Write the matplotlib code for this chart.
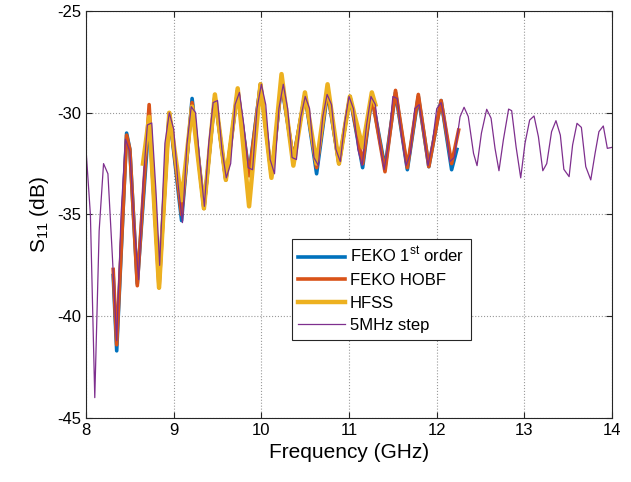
import matplotlib
matplotlib.use("Agg")
import matplotlib.pyplot as plt
import numpy as np

plt.rcParams['font.family'] = ['Liberation Sans', 'DejaVu Sans']
plt.rcParams['axes.unicode_minus'] = False

# FEKO HOBF (orange)
f_hobf = [8.31, 8.35, 8.463, 8.50, 8.585, 8.72, 8.833, 8.95, 9.09, 9.21, 9.345, 9.47,
          9.595, 9.73, 9.86, 9.99, 10.115, 10.23, 10.365, 10.497, 10.63, 10.755, 10.885,
          11.01, 11.155, 11.26, 11.41, 11.53, 11.665, 11.79, 11.91, 12.05, 12.17, 12.25]
s_hobf = [-37.7, -41.4, -31.1, -31.8, -38.5, -29.6, -38.6, -30.0, -35.0, -29.5, -34.7, -29.2,
          -33.3, -28.9, -33.1, -28.6, -33.1, -28.5, -32.3, -29.1, -32.7, -28.9, -32.5,
          -29.2, -32.5, -29.2, -32.9, -28.9, -32.7, -29.1, -32.65, -29.4, -32.5, -30.85]

# FEKO 1st order (blue)
f_feko1 = [8.31, 8.35, 8.463, 8.50, 8.585, 8.72, 8.833, 8.95, 9.09, 9.21, 9.345, 9.47,
           9.595, 9.73, 9.86, 9.99, 10.115, 10.23, 10.365, 10.497, 10.63, 10.755, 10.885,
           11.01, 11.155, 11.26, 11.41, 11.53, 11.665, 11.79, 11.91, 12.05, 12.17, 12.23]
s_feko1 = [-38.0, -41.7, -31.0, -31.8, -38.4, -30.3, -38.3, -30.0, -35.3, -29.3, -34.7, -29.2,
           -33.3, -28.9, -33.0, -28.6, -33.1, -28.6, -32.3, -29.1, -33.0, -29.0, -32.5,
           -29.2, -32.7, -29.2, -32.7, -29.0, -32.8, -29.2, -32.65, -29.4, -32.8, -31.8]

# HFSS (yellow)
f_hfss = [8.65, 8.72, 8.833, 8.95, 9.09, 9.21, 9.345, 9.47, 9.595, 9.73, 9.86, 9.99,
          10.115, 10.23, 10.365, 10.497, 10.63, 10.755, 10.885, 11.01, 11.155, 11.26, 11.30]
s_hfss = [-32.5, -30.2, -38.6, -30.0, -34.3, -29.7, -34.7, -29.1, -33.3, -28.8, -34.6, -28.6,
          -33.2, -28.1, -32.6, -29.0, -32.5, -28.6, -32.5, -29.2, -31.7, -29.0, -29.6]

# 5MHz step (purple)
f_step = [8.00, 8.05, 8.10, 8.15, 8.20, 8.25, 8.30, 8.35, 8.40, 8.45, 8.50, 8.55, 8.60,
          8.65, 8.70, 8.75, 8.80, 8.84, 8.90, 8.95, 9.00, 9.05, 9.10, 9.15, 9.20, 9.25,
          9.30, 9.35, 9.40, 9.45, 9.50, 9.55, 9.60, 9.65, 9.70, 9.75, 9.80, 9.85, 9.90,
          9.95, 10.00, 10.05, 10.10, 10.15, 10.20, 10.25, 10.30, 10.35, 10.40, 10.45,
          10.50, 10.55, 10.60, 10.65, 10.70, 10.75, 10.80, 10.85, 10.90, 10.95, 11.00,
          11.05, 11.10, 11.15, 11.20, 11.25, 11.30, 11.35, 11.40, 11.45, 11.50, 11.55,
          11.60, 11.65, 11.70, 11.75, 11.80, 11.85, 11.90, 11.95, 12.00, 12.05, 12.10,
          12.15, 12.20, 12.266, 12.312, 12.36, 12.42, 12.46, 12.51, 12.57, 12.62, 12.665,
          12.71, 12.76, 12.82, 12.855, 12.905, 12.958, 13.007, 13.06, 13.11, 13.16, 13.21,
          13.255, 13.31, 13.36, 13.41, 13.45, 13.51, 13.55, 13.60, 13.65, 13.70, 13.757,
          13.806, 13.85, 13.90, 13.946, 14.00]
s_step = [-31.8, -35.0, -44.0, -35.8, -32.5, -33.0, -37.0, -41.2, -35.0, -31.3, -31.9, -35.5, -38.2,
          -33.5, -30.6, -30.5, -34.0, -37.5, -31.5, -30.0, -30.8, -33.5, -35.4, -31.6, -29.7, -30.0,
          -32.5, -34.6, -31.5, -29.5, -29.4, -31.8, -33.2, -32.5, -29.6, -29.0, -30.6, -32.7, -32.8,
          -29.8, -28.6, -29.6, -32.3, -33.0, -29.8, -28.6, -29.8, -32.2, -32.3, -30.2,
          -29.2, -29.8, -32.2, -32.6, -30.2, -29.1, -29.6, -31.8, -32.4, -30.5, -29.2,
          -29.8, -31.8, -32.6, -30.6, -29.2, -29.6, -31.5, -32.8, -31.5, -29.2, -29.3,
          -31.2, -32.6, -32.0, -29.8, -29.6, -31.0, -32.6, -31.5, -29.8, -29.5, -30.6,
          -32.4, -32.2, -30.2, -29.73, -30.19, -32.0, -32.6, -31.0, -29.83, -30.27, -31.75,
          -32.85, -31.34, -29.82, -29.9, -31.67, -33.2, -31.5, -30.36, -30.16, -31.18, -32.85,
          -32.5, -30.93, -30.39, -31.1, -32.78, -33.14, -31.58, -30.52, -30.72, -32.65, -33.3,
          -32.0, -30.93, -30.65, -31.75, -31.7]

fig = plt.figure(figsize=(6.31, 4.82), dpi=100)
ax = fig.add_axes([0.1363, 0.1328, 0.8337, 0.8444])

ax.plot(f_feko1, s_feko1, color='#0072BD', lw=2.6, label='FEKO 1$^{\\mathregular{st}}$ order')
ax.plot(f_hobf, s_hobf, color='#D95319', lw=2.6, label='FEKO HOBF')
ax.plot(f_hfss, s_hfss, color='#EDB120', lw=3.2, label='HFSS')
ax.plot(f_step, s_step, color='#7E2F8E', lw=0.9, label='5MHz step')

ax.set_xlim(8, 14)
ax.set_ylim(-45, -25)
ax.set_xticks(np.arange(8, 15, 1))
ax.set_yticks(np.arange(-45, -24, 5))
ax.tick_params(direction='in', top=True, right=True, labelsize=12, length=4, color='#262626')
ax.grid(True, color='#9a9a9a', ls=':', lw=0.8)
for sp in ax.spines.values():
    sp.set_color('#262626')
    sp.set_linewidth(0.8)

ax.set_xlabel('Frequency (GHz)', fontsize=15)
ax.set_ylabel('S$_{\\mathregular{11}}$ (dB)', fontsize=15)

leg = ax.legend(loc='lower left', bbox_to_anchor=(0.391, 0.192), borderaxespad=0,
                fontsize=12, handlelength=2.8, handletextpad=0.3, fancybox=False,
                framealpha=1, edgecolor='#262626', labelspacing=0.45, borderpad=0.4)
leg.get_frame().set_linewidth(0.8)

fig.savefig('out.png', dpi=100)
